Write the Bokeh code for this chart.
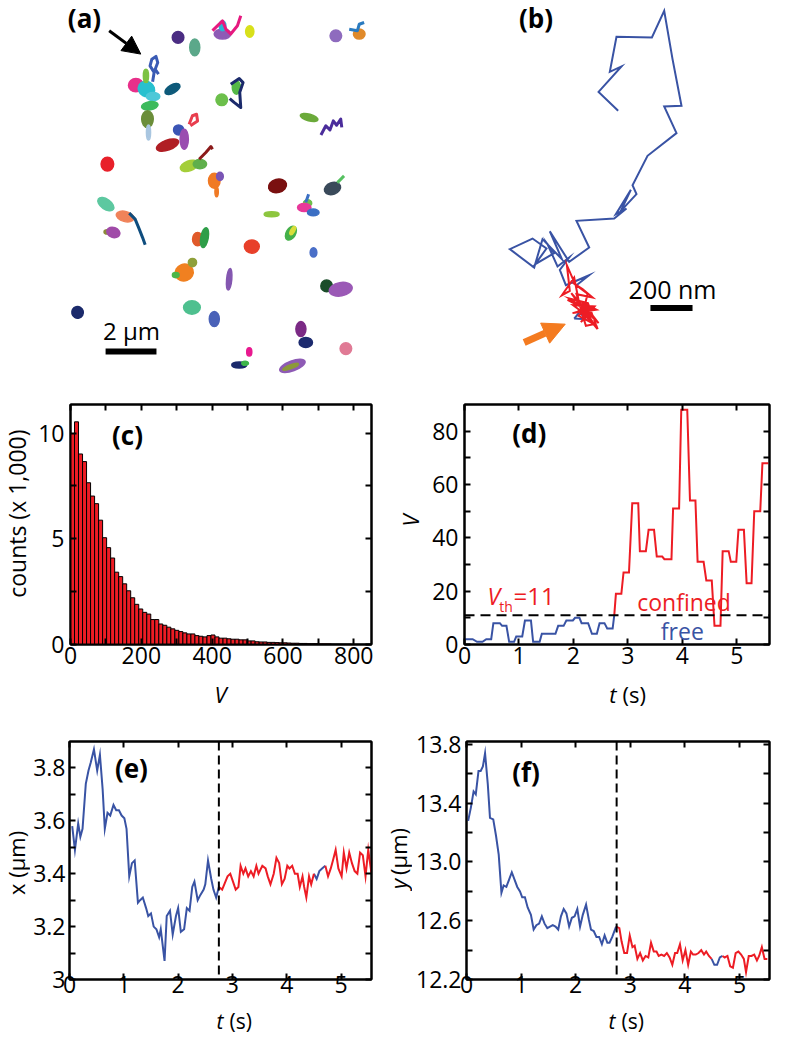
import numpy as np
from math import pi
from bokeh.plotting import figure
from bokeh.models import (Range1d, FixedTicker, LinearAxis, Label, Arrow, NormalHead,
                          Span, ColumnDataSource, CustomJSTickFormatter)
from bokeh.layouts import column, row
from bokeh.embed import file_html
from bokeh.resources import INLINE

FONT = "Open Sans"
BLUE = "#3953A4"
RED = "#ED1C24"
ORANGE = "#F47B20"

# ---------------- panel (a): trajectories (um) ----------------
blob_x = [7.22, 7.87, 8.95, 8.95, 10.01, 13.36, 14.27, 5.58, 5.99, 5.97, 6.25, 7.00, 6.12, 6.03, 6.07,
          9.49, 8.92, 7.24, 7.46, 6.81, 7.65, 8.07, 8.63, 8.85, 8.72, 4.47, 11.09, 13.23, 4.41, 5.16,
          4.47, 4.70, 12.26, 12.13, 12.48, 10.86, 11.61, 11.68, 7.98, 8.25, 10.09, 12.49, 7.46, 7.78,
          7.13, 9.21, 7.76, 8.63, 13.00, 13.55, 3.31, 12.00, 12.19, 13.75, 9.99, 9.60, 9.83, 11.67,
          11.60, 12.32]
blob_y = [13.74, 13.35, 13.87, 14.19, 13.97, 13.80, 13.87, 11.88, 11.73, 12.24, 11.44, 11.73, 11.08,
          10.56, 10.04, 11.79, 11.31, 10.14, 9.78, 9.55, 8.74, 8.81, 8.16, 8.33, 7.73, 8.81, 7.96, 7.86,
          7.25, 6.77, 6.17, 6.15, 7.29, 7.12, 6.93, 6.86, 6.12, 6.22, 5.89, 5.95, 5.60, 5.37, 4.59, 4.98,
          4.49, 4.33, 3.23, 2.78, 4.07, 3.94, 3.04, 2.39, 1.87, 1.63, 1.50, 0.99, 1.06, 0.96, 0.92, 10.62]
blob_w = [.45, .39, .65, .26, .32, .45, .45, .58, .65, .20, .52, .65, .65, .45, .16, .32, .45, .39, .32,
          .90, .71, .52, .45, .26, .13, .49, .71, .65, .71, .71, .26, .52, .32, .52, .45, .58, .36, .15,
          .39, .29, .58, .26, .71, .32, .26, .20, .65, .39, .45, .90, .45, .39, .52, .45, .20, .58, .26,
          1.04, .65, .71]
blob_h = [.45, .65, .39, .39, .45, .45, .39, .52, .58, .52, .32, .32, .32, .65, .58, .52, .45, .39, .78,
          .39, .39, .36, .58, .32, .39, .54, .52, .45, .39, .39, .16, .39, .26, .32, .26, .20, .58, .35,
          .52, .78, .52, .36, .65, .32, .20, .84, .52, .58, .45, .52, .45, .58, .39, .45, .32, .23, .16,
          .39, .15, .26]
blob_angle = [0, 0, 0, 0, 0, 0, 0, 0, -30, 0, 0, 30, 10, 0, 0, 0, 0, 0, 0, 20, 20, 0, 0, 0, 0, 0, 15, 20,
              -35, -15, 0, -20, 0, 0, 0, 0, -30, -30, 0, -10, 0, 0, 20, 0, 0, -5, 0, 0, 0, 10, -30, 0, 0,
              0, 0, 0, 0, 20, 20, -15]
blob_color = ["#4B2D83", "#5BA88A", "#8E5BB5", "#29B6D6", "#D8E01B", "#8E6BBE", "#E08A2A", "#E8308A",
              "#28C0CF", "#7CC242", "#4DC8D8", "#0E5A7A", "#3DBA5C", "#6B8E3A", "#A9C6E0", "#55B848",
              "#6CBF4B", "#3B55B5", "#9A4DB0", "#B01E24", "#A4CE39", "#5FAF4B", "#F07A25", "#7A55B5",
              "#F07A25", "#E8202A", "#7A1010", "#3A4A5A", "#5DC8A0", "#F0835A", "#8C8A3A", "#A04BA8",
              "#6DBE4B", "#E8389A", "#3B6FC4", "#8DC63F", "#45B04A", "#D8DE3A", "#E05A2A", "#2E9E48",
              "#E8402A", "#4A6FC8", "#F08020", "#8FA03A", "#4CB548", "#8457B0", "#4EC08F", "#4A62B8",
              "#1B4D2A", "#9B59B6", "#1B2A6B", "#7B2A85", "#1C2A6E", "#E07A95", "#E8198F", "#1B2A6B",
              "#3DB54A", "#8E5BB5", "#8C9A3A", "#6BAA3A"]

track_xs = [[8.56, 8.95, 9.08, 9.27, 9.53, 9.66],
            [13.88, 14.20, 14.27, 14.46],
            [6.23, 6.29, 6.13, 6.20, 6.36, 6.43, 6.33, 6.46],
            [9.27, 9.60, 9.75, 9.62, 9.66, 9.40, 9.23],
            [7.65, 7.78, 7.94, 7.98, 7.70],
            [8.04, 8.30, 8.50, 8.56],
            [13.42, 13.68],
            [5.32, 5.55, 5.71, 5.84, 5.94],
            [12.19, 12.30],
            [12.78, 12.97, 13.13, 13.26, 13.39, 13.55, 13.59]]
track_ys = [[14.00, 14.38, 14.06, 13.87, 14.19, 14.58],
            [14.06, 14.00, 14.25, 14.32],
            [12.01, 12.38, 12.63, 12.89, 13.00, 12.76, 12.50, 12.31],
            [11.92, 12.14, 11.98, 11.60, 11.01, 11.21, 11.36],
            [10.36, 10.69, 10.75, 10.49, 10.30],
            [9.00, 9.26, 9.49, 9.39],
            [8.09, 8.35],
            [6.90, 6.67, 6.28, 5.95, 5.67],
            [7.32, 7.64],
            [9.94, 10.30, 10.14, 10.49, 10.32, 10.56, 10.24]]
track_color = ["#E6197F", "#2A7BC0", "#3A5BB5", "#1B2A6B", "#E83E4E", "#8B1A1A", "#55C060",
               "#0F4D7E", "#3B6FC4", "#4B2D9B"]

# ---------------- panel (b): single trajectory (nm) ----------------
b_free_x = [699, 605, 715, 659, 691, 861, 920, 960, 1003, 920, 979, 840, 768, 787, 712, 760, 688, 739,
            680, 499, 560, 464, 371, 429, 336, 296, 179, 288, 355, 301, 392, 360, 408, 464, 419, 448,
            493, 560, 496]
b_free_y = [1304, 1395, 1517, 1491, 1659, 1656, 1784, 1552, 1328, 1325, 1197, 1088, 947, 904, 824, 925,
            808, 835, 787, 776, 648, 579, 726, 592, 688, 552, 640, 691, 643, 568, 621, 664, 557, 600,
            541, 467, 486, 515, 464]
b_free2_x = [488, 515, 541, 488]
b_free2_y = [307, 339, 304, 307]
b_conf_x = [496, 453, 467, 429, 488, 515, 456, 563, 480, 595, 528, 605, 496, 579, 474, 600, 541, 483,
            586, 520, 570, 464, 554, 595, 506, 573, 536, 552, 480, 528, 576, 499, 544, 584, 509, 560]
b_conf_y = [464, 563, 440, 419, 504, 365, 397, 355, 333, 349, 384, 285, 387, 312, 429, 256, 328, 371,
            365, 290, 336, 403, 381, 272, 349, 296, 355, 426, 480, 448, 408, 424, 272, 280, 320, 368]

# ---------------- panel (c): histogram of V ----------------
v_edges = np.linspace(0, 850, 76)
v_counts = [9.98, 10.53, 9.01, 8.65, 7.65, 7.02, 6.66, 5.88, 5.05, 4.58,
            4.09, 3.42, 3.21, 2.87, 2.54, 2.21, 1.90, 1.68, 1.52, 1.44,
            1.18, 1.18, 0.97, 0.91, 0.82, 0.74, 0.67, 0.61, 0.55, 0.50,
            0.50, 0.42, 0.39, 0.36, 0.42, 0.45, 0.36, 0.30, 0.30, 0.27,
            0.25, 0.25, 0.22, 0.22, 0.17, 0.17, 0.13, 0.12, 0.12, 0.10,
            0.10, 0.09, 0.08, 0.08, 0.07, 0.06, 0.06, 0.05, 0.05, 0.04,
            0.04, 0.04, 0.03, 0.03, 0.03, 0.02, 0.02, 0.02, 0.02, 0.02,
            0.01, 0.01, 0.01, 0.01, 0.01]

# ---------------- panel (d): V(t) ----------------
d_free_t = [0.00, 0.15, 0.23, 0.33, 0.40, 0.49, 0.53, 0.65, 0.69, 0.77, 0.82, 0.91, 0.95, 1.06, 1.11,
            1.22, 1.26, 1.38, 1.42, 1.67, 1.72, 1.82, 1.87, 1.99, 2.03, 2.11, 2.15, 2.27, 2.34, 2.43,
            2.48, 2.57, 2.62, 2.72, 2.75]
d_free_v = [2, 2, 1, 1, 2, 2, 8, 8, 7, 7, 1, 1, 3, 3, 9, 9, 1, 1, 4, 4, 7, 7, 9, 9, 10, 10, 8, 8, 4, 4,
            8, 8, 6, 6, 11]
d_conf_t = [2.75, 2.78, 2.88, 2.92, 3.02, 3.08, 3.19, 3.22, 3.33, 3.38, 3.48, 3.53, 3.63, 3.67, 3.80,
            3.83, 3.94, 3.98, 4.09, 4.14, 4.24, 4.28, 4.39, 4.44, 4.54, 4.59, 4.70, 4.74, 4.85, 4.89,
            4.99, 5.03, 5.13, 5.18, 5.27, 5.32, 5.43, 5.47, 5.58]
d_conf_v = [11, 19, 19, 27, 27, 53, 53, 35, 35, 43, 43, 33, 33, 32, 32, 51, 51, 88, 88, 54, 54, 31, 31,
            24, 24, 7, 7, 35, 35, 31, 31, 43, 43, 23, 23, 50, 50, 68, 68]
v_threshold = 11
t_switch = 2.75

# ---------------- panel (e): x(t) ----------------
e_free1_t = [0.05, 0.10, 0.16, 0.20, 0.24, 0.30, 0.35, 0.39, 0.45, 0.51, 0.56, 0.61, 0.65, 0.70, 0.75,
             0.81, 0.86, 0.91, 0.96, 1.01, 1.05, 1.10, 1.15, 1.20, 1.26, 1.30, 1.35, 1.41, 1.45, 1.50,
             1.55, 1.60, 1.65, 1.68, 1.75, 1.79, 1.85, 1.90, 1.96, 2.00, 2.05, 2.11, 2.16, 2.21, 2.26,
             2.30, 2.36, 2.41, 2.47, 2.50, 2.55, 2.61, 2.65, 2.70, 2.75]
e_free1_x = [3.58, 3.49, 3.59, 3.54, 3.57, 3.74, 3.79, 3.82, 3.87, 3.79, 3.85, 3.72, 3.57, 3.63, 3.62,
             3.66, 3.64, 3.64, 3.62, 3.61, 3.57, 3.39, 3.44, 3.45, 3.29, 3.30, 3.31, 3.27, 3.24, 3.25,
             3.20, 3.19, 3.16, 3.19, 3.07, 3.24, 3.26, 3.17, 3.24, 3.27, 3.18, 3.19, 3.27, 3.26, 3.35,
             3.37, 3.30, 3.32, 3.34, 3.36, 3.45, 3.38, 3.34, 3.31, 3.35]
e_conf1_t = [2.75, 2.81, 2.85, 2.91, 2.96, 3.01, 3.06, 3.11, 3.15, 3.20, 3.24, 3.29, 3.34, 3.39, 3.44,
             3.48, 3.55, 3.61, 3.65, 3.70, 3.76, 3.81, 3.86, 3.91, 3.96, 4.01, 4.05, 4.10, 4.15, 4.20,
             4.24, 4.29, 4.32, 4.36, 4.41, 4.45, 4.50]
e_conf1_x = [3.35, 3.34, 3.36, 3.39, 3.40, 3.37, 3.34, 3.35, 3.43, 3.40, 3.42, 3.39, 3.41, 3.39, 3.43,
             3.40, 3.43, 3.42, 3.39, 3.36, 3.40, 3.46, 3.44, 3.36, 3.38, 3.43, 3.42, 3.43, 3.40, 3.40,
             3.35, 3.39, 3.35, 3.31, 3.39, 3.36, 3.40]
e_free2_t = [4.50, 4.55, 4.60, 4.65, 4.71]
e_free2_x = [3.40, 3.38, 3.41, 3.42, 3.43]
e_conf2_t = [4.71, 4.76, 4.81, 4.85, 4.90, 4.95, 5.01, 5.05, 5.10, 5.15, 5.20, 5.25, 5.30, 5.35, 5.40,
             5.45, 5.50, 5.56]
e_conf2_x = [3.43, 3.39, 3.42, 3.45, 3.49, 3.42, 3.39, 3.48, 3.42, 3.48, 3.44, 3.41, 3.40, 3.48, 3.47,
             3.39, 3.49, 3.40]

# ---------------- panel (f): y(t) ----------------
f_free1_t = [0.03, 0.08, 0.13, 0.17, 0.22, 0.26, 0.30, 0.34, 0.39, 0.43, 0.49, 0.54, 0.59, 0.64, 0.68,
             0.73, 0.78, 0.83, 0.88, 0.93, 0.98, 1.02, 1.07, 1.12, 1.18, 1.23, 1.28, 1.33, 1.38, 1.43,
             1.48, 1.53, 1.58, 1.63, 1.68, 1.73, 1.78, 1.83, 1.88, 1.93, 1.98, 2.03, 2.08, 2.13, 2.19,
             2.24, 2.28, 2.33, 2.38, 2.43, 2.48, 2.53, 2.58, 2.62, 2.67, 2.74]
f_free1_y = [13.28, 13.37, 13.48, 13.46, 13.62, 13.62, 13.65, 13.74, 13.53, 13.30, 13.29, 13.18, 13.05,
             12.79, 12.84, 12.83, 12.88, 12.93, 12.88, 12.83, 12.80, 12.76, 12.76, 12.69, 12.64, 12.54,
             12.57, 12.58, 12.63, 12.58, 12.55, 12.56, 12.57, 12.56, 12.54, 12.63, 12.68, 12.65, 12.56,
             12.62, 12.63, 12.68, 12.56, 12.64, 12.71, 12.61, 12.54, 12.53, 12.49, 12.49, 12.44, 12.50,
             12.45, 12.45, 12.49, 12.56]
f_conf1_t = [2.74, 2.80, 2.84, 2.89, 2.94, 2.99, 3.04, 3.08, 3.13, 3.18, 3.23, 3.28, 3.33, 3.38, 3.43,
             3.48, 3.52, 3.57, 3.62, 3.67, 3.72, 3.77, 3.82, 3.86, 3.91, 3.96, 4.01, 4.06, 4.11, 4.15,
             4.20, 4.25, 4.30, 4.35, 4.39, 4.44, 4.49]
f_conf1_y = [12.56, 12.55, 12.46, 12.38, 12.38, 12.50, 12.42, 12.43, 12.34, 12.38, 12.33, 12.36, 12.35,
             12.45, 12.39, 12.39, 12.36, 12.37, 12.36, 12.38, 12.35, 12.30, 12.38, 12.38, 12.44, 12.33,
             12.40, 12.30, 12.39, 12.37, 12.37, 12.38, 12.40, 12.37, 12.39, 12.36, 12.34]
f_free2_t = [4.49, 4.54, 4.59, 4.64, 4.69]
f_free2_y = [12.34, 12.30, 12.30, 12.35, 12.36]
f_conf2_t = [4.69, 4.73, 4.78, 4.83, 4.88, 4.93, 4.98, 5.03, 5.08, 5.12, 5.17, 5.22, 5.27, 5.32, 5.36,
             5.41, 5.46, 5.51]
f_conf2_y = [12.36, 12.35, 12.36, 12.29, 12.28, 12.38, 12.39, 12.37, 12.34, 12.25, 12.36, 12.36, 12.37,
             12.33, 12.36, 12.42, 12.34, 12.34]


# ================= helpers =================
def base_fig(w, h, xr, yr, bl=0, br=0, bt=0, bb=0, axes=True):
    kw = {}
    if not axes:
        kw = dict(x_axis_location=None, y_axis_location=None)
    p = figure(width=w, height=h, x_range=Range1d(*xr), y_range=Range1d(*yr),
               output_backend="svg", toolbar_location=None,
               min_border_left=bl, min_border_right=br, min_border_top=bt, min_border_bottom=bb, **kw)
    p.grid.visible = False
    p.background_fill_color = "white"
    p.border_fill_color = "white"
    if axes:
        p.outline_line_color = "black"
        p.outline_line_width = 2
    else:
        p.outline_line_color = None
    return p


def strip(w, h):
    """A plain text canvas (no axes) used for axis titles outside the plot frames."""
    return base_fig(w, h, (0, w), (0, h), axes=False)


def style_axes(p, xt, xm, yt, ym, xfmt, yfmt, xstand=4, ystand=6):
    bottom = p.xaxis[0]
    left = p.yaxis[0]
    top = LinearAxis()
    right = LinearAxis()
    p.add_layout(top, "above")
    p.add_layout(right, "right")
    bottom.ticker = FixedTicker(ticks=xt, minor_ticks=xm)
    left.ticker = FixedTicker(ticks=yt, minor_ticks=ym)
    # mirrored axes: all ticks as unlabeled minor ticks
    top.ticker = FixedTicker(ticks=[], minor_ticks=list(xt) + list(xm))
    right.ticker = FixedTicker(ticks=[], minor_ticks=list(yt) + list(ym))
    for ax in (bottom, top, left, right):
        ax.major_tick_in = 6
        ax.major_tick_out = 0
        ax.minor_tick_in = 6
        ax.minor_tick_out = 0
        ax.major_tick_line_width = 2
        ax.minor_tick_line_width = 2
        ax.major_tick_line_color = "black"
        ax.minor_tick_line_color = "black"
        ax.axis_line_width = 2
        ax.axis_line_color = "black"
        ax.major_label_text_font = FONT
        ax.major_label_text_font_size = "23px"
        ax.major_label_text_color = "black"
    for ax in (top, right):
        ax.major_label_standoff = 0
    bottom.formatter = CustomJSTickFormatter(code=xfmt)
    left.formatter = CustomJSTickFormatter(code=yfmt)
    bottom.major_label_standoff = xstand
    left.major_label_standoff = ystand


def lab(p, x, y, text, size, color="black", style="normal", align="center", baseline="middle", angle=0.0):
    p.add_layout(Label(x=x, y=y, text=text, text_font=FONT, text_font_size=f"{size}px",
                       text_color=color, text_font_style=style, text_align=align,
                       text_baseline=baseline, angle=angle))


INT_FMT = "return tick.toFixed(0);"

# ================= (a) =================
pa = base_fig(382, 390, (0.311, 15.175), (0.0, 15.175), axes=False)
src_a = ColumnDataSource(dict(x=blob_x, y=blob_y, w=blob_w, h=blob_h, a=blob_angle, c=blob_color))
pa.ellipse(x="x", y="y", width="w", height="h", angle="a", angle_units="deg", source=src_a,
           fill_color="c", line_color="c", line_width=1.5)
pa.multi_line(xs=track_xs, ys=track_ys, line_color=track_color, line_width=3, line_join="round")
pa.add_layout(Arrow(end=NormalHead(size=18, fill_color="black", line_color="black"),
                    x_start=4.54, y_start=14.0, x_end=5.77, y_end=13.09,
                    line_color="black", line_width=3))
pa.segment(x0=[4.40], y0=[1.52], x1=[6.38], y1=[1.52], line_color="black", line_width=6, line_cap="butt")
lab(pa, 5.41, 2.33, "2 μm", 24)
lab(pa, 3.58, 14.50, "(a)", 26, style="bold")

# ================= (b) =================
pb = base_fig(389, 390, (-432, 1435), (-38.4, 1833.6), axes=False)
pb.line(b_free_x, b_free_y, line_color=BLUE, line_width=2, line_join="miter")
pb.line(b_free2_x, b_free2_y, line_color=BLUE, line_width=2, line_join="miter")
pb.line(b_conf_x, b_conf_y, line_color=RED, line_width=2, line_join="miter")
pb.segment(x0=[854], y0=[358], x1=[1056], y1=[358], line_color="black", line_width=6, line_cap="butt")
lab(pb, 960, 451, "200 nm", 25)
pb.add_layout(Arrow(end=NormalHead(size=22, fill_color=ORANGE, line_color=ORANGE),
                    x_start=248, y_start=192, x_end=445, y_end=280,
                    line_color=ORANGE, line_width=7))
lab(pb, 305, 1752, "(b)", 26, style="bold")

# ================= (c) =================
pc = base_fig(350, 288, (0, 850), (0, 11.35), bl=38, br=11, bt=14, bb=33)
pc.quad(left=v_edges[:-1], right=v_edges[1:], bottom=0, top=v_counts,
        fill_color=RED, line_color="black", line_width=1)
style_axes(pc, [0, 200, 400, 600, 800], [100, 300, 500, 700], [0, 5, 10], [2.5, 7.5], INT_FMT, INT_FMT,
           xstand=2)
lab(pc, 161, 9.92, "(c)", 26, style="bold")

yl_c = strip(32, 288)
lab(yl_c, 16, 157, "counts (x 1,000)", 23, angle=pi / 2)

# ================= (d) =================
pd_ = base_fig(345, 288, (0, 5.6), (0, 90), bl=38, br=2, bt=13, bb=34)
pd_.add_layout(Span(location=v_threshold, dimension="width", line_color="black", line_width=2,
                    line_dash="10 6"))
pd_.line(d_free_t, d_free_v, line_color=BLUE, line_width=2, line_join="miter")
pd_.line(d_conf_t, d_conf_v, line_color=RED, line_width=2, line_join="miter")
style_axes(pd_, [0, 1, 2, 3, 4, 5], [], [0, 20, 40, 60, 80], [10, 30, 50, 70], INT_FMT, INT_FMT,
           xstand=2)
lab(pd_, 1.19, 79.2, "(d)", 26, style="bold")
lab(pd_, 0.42, 18.3, "V", 23, RED, "italic", "left", "alphabetic")
lab(pd_, 0.64, 14.4, "th", 14, RED, "normal", "left", "alphabetic")
lab(pd_, 0.90, 18.3, "=11", 24, RED, "normal", "left", "alphabetic")
lab(pd_, 4.03, 16.1, "confined", 23, RED)
lab(pd_, 4.0, 5.2, "free", 23, BLUE)

yl_d = strip(44, 288)
lab(yl_d, 27, 149, "V", 22, style="italic", angle=pi / 2)

# x-axis titles of row 2
xl_2 = strip(771, 30)
lab(xl_2, 220, 15, "V", 22, style="italic")
lab(xl_2, 616, 15, "t", 22, style="italic", align="right")
lab(xl_2, 622, 15, "(s)", 22, align="left")

# ================= (e) =================
pe = base_fig(352, 298, (0, 5.56), (3.0, 3.9), bl=38, br=11, bt=33, bb=27)
pe.add_layout(Span(location=t_switch, dimension="height", line_color="black", line_width=2,
                   line_dash="9 5"))
pe.line(e_free1_t, e_free1_x, line_color=BLUE, line_width=2, line_join="miter")
pe.line(e_free2_t, e_free2_x, line_color=BLUE, line_width=2, line_join="miter")
pe.line(e_conf1_t, e_conf1_x, line_color=RED, line_width=2, line_join="miter")
pe.line(e_conf2_t, e_conf2_x, line_color=RED, line_width=2, line_join="miter")
style_axes(pe, [0, 1, 2, 3, 4, 5], [], [3.0, 3.2, 3.4, 3.6, 3.8], [3.1, 3.3, 3.5, 3.7], INT_FMT,
           "return (Math.abs(tick - 3) < 1e-9) ? '3' : tick.toFixed(1);", xstand=-4, ystand=4)
lab(pe, 1.14, 3.80, "(e)", 26, style="bold")

yl_e = strip(30, 298)
lab(yl_e, 15, 146, "x (μm)", 22, angle=pi / 2)

# ================= (f) =================
pf = base_fig(359, 298, (0, 5.55), (12.2, 13.82), bl=54, br=2, bt=32, bb=27)
pf.add_layout(Span(location=t_switch, dimension="height", line_color="black", line_width=2,
                   line_dash="9 5"))
pf.line(f_free1_t, f_free1_y, line_color=BLUE, line_width=2, line_join="miter")
pf.line(f_free2_t, f_free2_y, line_color=BLUE, line_width=2, line_join="miter")
pf.line(f_conf1_t, f_conf1_y, line_color=RED, line_width=2, line_join="miter")
pf.line(f_conf2_t, f_conf2_y, line_color=RED, line_width=2, line_join="miter")
style_axes(pf, [0, 1, 2, 3, 4, 5], [], [12.2, 12.6, 13.0, 13.4, 13.8], [12.4, 12.8, 13.2, 13.6],
           INT_FMT, "return tick.toFixed(1);", xstand=-4, ystand=5)
lab(pf, 1.09, 13.61, "(f)", 26, style="bold")

yl_f = strip(30, 298)
lab(yl_f, 15, 126, "y", 22, style="italic", align="right", angle=pi / 2)
lab(yl_f, 15, 131, "(μm)", 22, align="left", angle=pi / 2)

# x-axis titles of row 3
xl_3 = strip(771, 28)
lab(xl_3, 223, 14, "t", 21, style="italic", align="right")
lab(xl_3, 229, 14, "(s)", 21, align="left")
lab(xl_3, 615, 14, "t", 21, style="italic", align="right")
lab(xl_3, 621, 14, "(s)", 21, align="left")

layout = column(row(pa, pb),
                row(yl_c, pc, yl_d, pd_),
                xl_2,
                row(yl_e, pe, yl_f, pf),
                xl_3)
open("out.html", "w").write(file_html(layout, INLINE))
